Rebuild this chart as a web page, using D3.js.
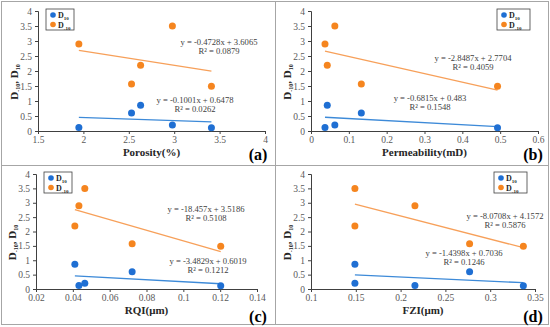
<!DOCTYPE html>
<html>
<head>
<meta charset="utf-8">
<script src="https://cdn.jsdelivr.net/npm/d3@7"></script>
<style>
  body { margin: 0; background: #fff; }
  svg text { font-family: "Liberation Serif", "DejaVu Serif", serif; }
</style>
</head>
<body>
<div id="chart"></div>
<script>
// five samples, same order in every array
const d10 = [0.12, 0.86, 0.2, 0.6, 0.11];
const dm10 = [2.9, 2.19, 3.5, 1.57, 1.49];
const porosity = [1.95, 2.63, 2.98, 2.53, 3.41];
const permeability = [0.037, 0.043, 0.063, 0.133, 0.493];
const rqi = [0.0433, 0.0411, 0.0465, 0.0722, 0.1203];
const fzi = [0.216, 0.149, 0.149, 0.277, 0.337];

const yTicks = [0, 0.5, 1, 1.5, 2, 2.5, 3, 3.5, 4];
const xTicksA = [1.5, 2, 2.5, 3, 3.5, 4];
const xTicksB = [0, 0.1, 0.2, 0.3, 0.4, 0.5, 0.6];
const xTicksC = [0.02, 0.04, 0.06, 0.08, 0.1, 0.12, 0.14];
const xTicksD = [0.1, 0.15, 0.2, 0.25, 0.3, 0.35];

// trendline coefficients [slope, intercept, R2] : D10 then D-10
const fitD10 = [[-0.1001, 0.6478, 0.0262], [-0.6815, 0.483, 0.1548], [-3.4829, 0.6019, 0.1212], [-1.4398, 0.7036, 0.1246]];
const fitDm10 = [[-0.4728, 3.6065, 0.0879], [-2.8487, 2.7704, 0.4059], [-18.457, 3.5186, 0.5108], [-8.0708, 4.1572, 0.5876]];

const xTitles = ['Porosity(%)', 'Permeability(mD)', 'RQI(\u03bcm)', 'FZI(\u03bcm)'];
const panelTags = ['(a)', '(b)', '(c)', '(d)'];

const blue = '#1f6fd3', orange = '#f5851f';
const blueLine = '#3d8ad8', orangeLine = '#f7a05a';

const svg = d3.select('#chart').append('svg')
  .attr('width', 550).attr('height', 327);

// frames
svg.append('rect').attr('x', 1.5).attr('y', 1.5).attr('width', 547).attr('height', 323)
  .attr('fill', 'none').attr('stroke', '#a6a6a6');
svg.append('line').attr('x1', 275.5).attr('x2', 275.5).attr('y1', 1.5).attr('y2', 324.5).attr('stroke', '#a6a6a6');
svg.append('line').attr('x1', 1.5).attr('x2', 548.5).attr('y1', 165.5).attr('y2', 165.5).attr('stroke', '#a6a6a6');

const panels = [
  {xs: porosity, ticks: xTicksA, box: [38, 265, 11, 131], legendLeft: true,
   eqs: [[195, 103], [219, 45]], titleY: 156, tag: [258, 160]},
  {xs: permeability, ticks: xTicksB, box: [311, 538, 11, 131], legendLeft: false,
   eqs: [[430, 101], [473, 61]], titleY: 156, tag: [533, 160]},
  {xs: rqi, ticks: xTicksC, box: [36, 257, 174, 289], legendLeft: true,
   eqs: [[208, 264], [206, 212]], titleY: 314, tag: [258, 322]},
  {xs: fzi, ticks: xTicksD, box: [311, 535, 174, 289], legendLeft: false,
   eqs: [[464, 256], [505, 219]], titleY: 314, tag: [533, 322]}
];

function sub(textSel, main, subTxt, size) {
  textSel.append('tspan').text(main);
  textSel.append('tspan').text(subTxt).attr('font-size', size).attr('dy', 2);
}

panels.forEach((p, i) => {
  const [left, right, top, bottom] = p.box;
  const x = d3.scaleLinear().domain(d3.extent(p.ticks)).range([left, right]);
  const y = d3.scaleLinear().domain([0, 4]).range([bottom, top]);
  const g = svg.append('g');

  const xAxis = g.append('g').attr('transform', `translate(0,${bottom})`)
    .call(d3.axisBottom(x).tickValues(p.ticks).tickFormat(d3.format('~g')).tickSize(3).tickPadding(2));
  const yAxis = g.append('g').attr('transform', `translate(${left},0)`)
    .call(d3.axisLeft(y).tickValues(yTicks).tickFormat(d3.format('~g')).tickSize(3).tickPadding(3));
  [xAxis, yAxis].forEach(a => {
    a.attr('font-family', '"Liberation Serif", serif');
    a.select('.domain').attr('stroke', '#404040');
    a.selectAll('.tick line').attr('stroke', '#404040');
    a.selectAll('.tick text').attr('fill', '#595959').attr('font-size', 9.5);
  });

  // trendlines
  const xr = d3.extent(p.xs);
  [[fitD10[i], blueLine], [fitDm10[i], orangeLine]].forEach(([f, c]) => {
    g.append('line')
      .attr('x1', x(xr[0])).attr('y1', y(f[0] * xr[0] + f[1]))
      .attr('x2', x(xr[1])).attr('y2', y(f[0] * xr[1] + f[1]))
      .attr('stroke', c).attr('stroke-width', 1.3);
  });

  // points
  [[d10, blue], [dm10, orange]].forEach(([vals, c]) => {
    g.selectAll(null).data(vals).enter().append('circle')
      .attr('cx', (d, k) => x(p.xs[k])).attr('cy', d => y(d))
      .attr('r', 3.5).attr('fill', c);
  });

  // equations
  [fitD10[i], fitDm10[i]].forEach((f, k) => {
    const [ex, ey] = p.eqs[k];
    g.append('text').attr('x', ex).attr('y', ey).attr('text-anchor', 'middle')
      .attr('font-size', 8.6).attr('fill', '#404040')
      .text(`y = ${f[0]}x + ${f[1]}`);
    g.append('text').attr('x', ex).attr('y', ey + 9).attr('text-anchor', 'middle')
      .attr('font-size', 8.6).attr('fill', '#404040')
      .text(`R\u00b2 = ${f[2].toFixed(4)}`);
  });

  // legend
  const lx = p.legendLeft ? left + 8 : right - 41;
  const leg = g.append('g').attr('transform', `translate(${lx},${top - 2})`);
  leg.append('rect').attr('width', p.legendLeft ? 28 : 33).attr('height', 21)
    .attr('fill', '#fff').attr('stroke', '#404040').attr('stroke-width', 0.8);
  [['10', blue], ['-10', orange]].forEach(([s, c], k) => {
    leg.append('circle').attr('cx', 7).attr('cy', 6 + k * 9.5).attr('r', 2.8).attr('fill', c);
    const t = leg.append('text').attr('x', 12).attr('y', 9 + k * 9.5)
      .attr('font-size', 8).attr('font-weight', 'bold').attr('fill', '#262626');
    sub(t, 'D', s, 5);
  });

  // axis titles
  g.append('text').attr('x', (left + right) / 2).attr('y', p.titleY).attr('text-anchor', 'middle')
    .attr('font-size', 11).attr('font-weight', 'bold').attr('fill', '#262626').text(xTitles[i]);
  const yl = g.append('text')
    .attr('transform', `translate(${left - 20},${(top + bottom) / 2 + 11}) rotate(-90)`)
    .attr('text-anchor', 'middle').attr('font-size', 11).attr('font-weight', 'bold').attr('fill', '#262626');
  yl.append('tspan').text('D');
  yl.append('tspan').text('-10').attr('font-size', 6).attr('dy', 2);
  yl.append('tspan').text(', D').attr('dy', -2);
  yl.append('tspan').text('10').attr('font-size', 6).attr('dy', 2);

  // panel tag
  g.append('text').attr('x', p.tag[0]).attr('y', p.tag[1]).attr('text-anchor', 'middle')
    .attr('font-size', 16).attr('font-weight', 'bold').attr('fill', '#000').text(panelTags[i]);
});
</script>
</body>
</html>
